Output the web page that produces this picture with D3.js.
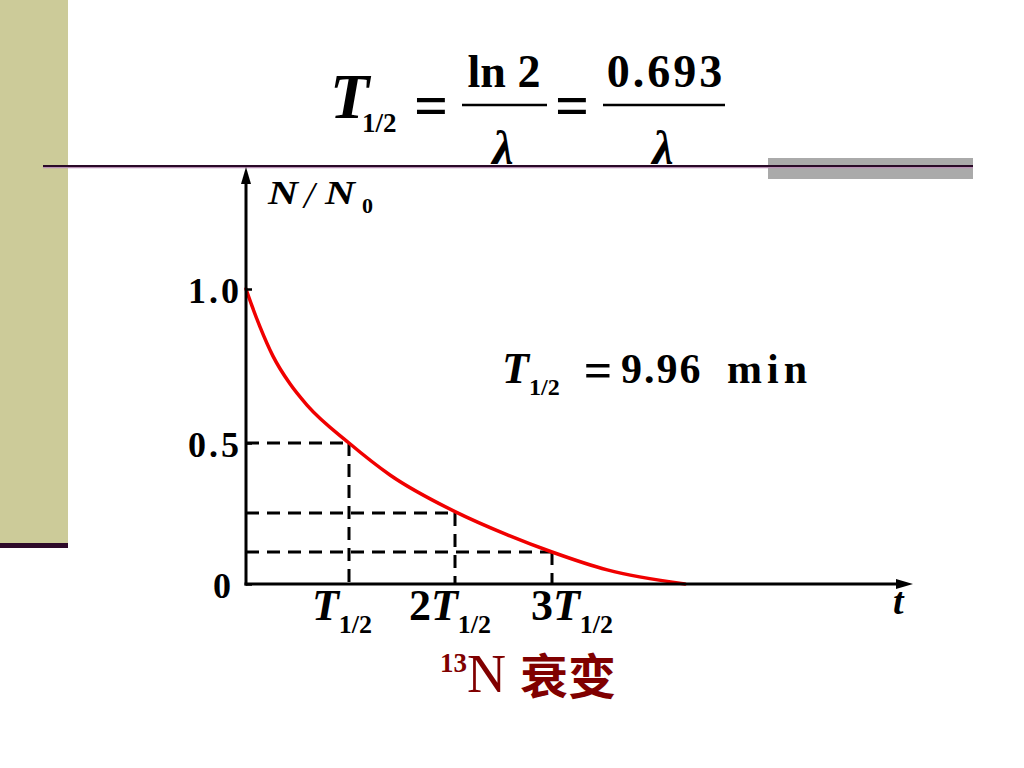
<!DOCTYPE html>
<html><head><meta charset="utf-8">
<script src="https://cdn.jsdelivr.net/npm/d3@7"></script>
<style>
body{margin:0;background:#fff;}
text{font-family:"Liberation Serif","Times New Roman",serif;}
</style>
</head><body>
<svg id="c" width="1024" height="768"></svg>
<script>
// ---- data ----
const curveT = [0, 0.058, 0.136, 0.262, 0.427, 0.592, 1.0, 1.39, 2.0, 2.54, 3.0, 3.57, 4.37];
const curveN = [1.0, 0.945, 0.877, 0.782, 0.692, 0.623, 0.5, 0.385, 0.255, 0.18, 0.125, 0.055, 0];
const halfT = [1, 2, 3];
const halfN = [0.5, 0.25, 0.125];
const yTickValues = [0, 0.5, 1.0];
const yTickLabels = ["0", "0.5", "1.0"];
const xTickPrefix = ["", "2", "3"];
const halfLifeText = "9.96";
const unitText = "min";
const titleNum = "0.693";

const svg = d3.select("#c");
const x = d3.scaleLinear().domain([0, 1, 2, 3]).range([246, 349, 455, 552]);
const y = d3.scaleLinear().domain([0, 0.125, 0.25, 0.5, 1]).range([584, 552, 513, 443, 289]);

// ---- slide decoration ----
svg.append("rect").attr("x",0).attr("y",0).attr("width",68).attr("height",545).attr("fill","#cccb99");
svg.append("rect").attr("x",0).attr("y",543).attr("width",68).attr("height",5).attr("fill","#2e0a2a");
svg.append("rect").attr("x",768).attr("y",158).attr("width",205).attr("height",21).attr("fill","#aaaaaa");
svg.append("line").attr("x1",43).attr("x2",973).attr("y1",167.5).attr("y2",167.5).attr("stroke","#b890b4").attr("stroke-width",1.5);
svg.append("line").attr("x1",43).attr("x2",973).attr("y1",166).attr("y2",166).attr("stroke","#2a0a28").attr("stroke-width",2);

// ---- text helper ----
const F = "Liberation Serif";
function txt(xp, yp, s, size, opts={}) {
  const t = svg.append("text").attr("x",xp).attr("y",yp).text(s)
    .attr("font-size",size).attr("font-weight",opts.weight||"bold")
    .attr("font-style",opts.italic?"italic":"normal")
    .attr("text-anchor",opts.anchor||"start")
    .attr("fill",opts.fill||"#000");
  if (opts.ls) t.attr("letter-spacing",opts.ls);
  if (opts.len) t.attr("textLength",opts.len).attr("lengthAdjust","spacingAndGlyphs");
  return t;
}

// ---- top formula ----
txt(330,118,"T",64,{italic:true});
txt(362,132,"1/2",27);
txt(431,125,"=",60,{anchor:"middle"});
svg.append("line").attr("x1",462).attr("x2",547).attr("y1",105).attr("y2",105).attr("stroke","#000").attr("stroke-width",2.5);
txt(504,87,"ln 2",46,{anchor:"middle"});
txt(503,164,"λ",48,{italic:true,anchor:"middle"});
txt(572,125,"=",60,{anchor:"middle"});
svg.append("line").attr("x1",603).attr("x2",725).attr("y1",105).attr("y2",105).attr("stroke","#000").attr("stroke-width",2.5);
txt(666,87,titleNum,46,{anchor:"middle",ls:3});
txt(663,164,"λ",48,{italic:true,anchor:"middle"});

// ---- dashed guide lines ----
const g = svg.append("g");
halfT.forEach((t,i)=>{
  g.append("line").attr("x1",x(0)).attr("x2",x(t)).attr("y1",y(halfN[i])).attr("y2",y(halfN[i]))
    .attr("stroke","#000").attr("stroke-width",3).attr("stroke-dasharray","13,8");
  g.append("line").attr("x1",x(t)).attr("x2",x(t)).attr("y1",y(halfN[i])).attr("y2",y(0))
    .attr("stroke","#000").attr("stroke-width",3).attr("stroke-dasharray","13,8");
});

// ---- decay curve ----
const line = d3.line().x(i=>x(curveT[i])).y(i=>y(curveN[i])).curve(d3.curveMonotoneX);
svg.append("path").attr("d", line(d3.range(curveT.length)))
  .attr("fill","none").attr("stroke","#f00000").attr("stroke-width",3.5).attr("stroke-linecap","round");

// ---- axes ----
svg.append("line").attr("x1",x(0)).attr("x2",x(0)).attr("y1",y(0)+1.5).attr("y2",180).attr("stroke","#000").attr("stroke-width",3);
svg.append("path").attr("d",`M${x(0)},167 L${x(0)-5},184 L${x(0)+5},184 Z`).attr("fill","#000");
svg.append("line").attr("x1",x(0)-1.5).attr("x2",900).attr("y1",y(0)).attr("y2",y(0)).attr("stroke","#000").attr("stroke-width",3);
svg.append("path").attr("d",`M913,${y(0)} L896,${y(0)-5} L896,${y(0)+5} Z`).attr("fill","#000");

const yAxis = d3.axisLeft(y).tickValues(yTickValues)
  .tickFormat((d,i)=>yTickLabels[i]).tickSizeInner(-6).tickSizeOuter(0).tickPadding(4);
const ya = svg.append("g").attr("transform",`translate(${x(0)},0)`).call(yAxis);
ya.select(".domain").remove();
ya.selectAll(".tick line").attr("stroke","#000").attr("stroke-width",2.5);
ya.selectAll(".tick text").attr("font-family",F).attr("font-size",36).attr("font-weight","bold")
  .attr("letter-spacing",3).attr("dy","0.38em").attr("fill","#000");
ya.selectAll(".tick text").filter(d=>d===0).attr("dx",-8);

// x tick labels
const labelDx = [-7, -5, 20];
halfT.forEach((t,i)=>{
  const tx = svg.append("text").attr("x",x(t)+labelDx[i]).attr("y",620).attr("text-anchor","middle")
    .attr("font-weight","bold").attr("font-size",44);
  if (xTickPrefix[i]) tx.append("tspan").text(xTickPrefix[i]);
  tx.append("tspan").attr("font-style","italic").text("T");
  tx.append("tspan").attr("font-size",26).attr("dy",13).text("1/2");
});

// axis titles
txt(268,204,"N",34,{italic:true,len:30});
txt(304,208,"/",38,{italic:true,weight:"normal"});
txt(325,204,"N",34,{italic:true,len:30});
txt(362,213,"0",22);
txt(893,614,"t",38,{italic:true});

// half-life annotation
txt(502,383,"T",44,{italic:true});
txt(529,395,"1/2",24);
txt(598,387,"=",50,{anchor:"middle"});
txt(621,383,halfLifeText,42,{ls:2});
txt(727,383,unitText,42,{ls:5});

// caption
svg.append("text").attr("x",440).attr("y",672).attr("fill","#800000").attr("font-size",27).attr("font-weight","bold").text("13");
svg.append("text").attr("x",467).attr("y",692).attr("fill","#800000").attr("font-size",54).text("N");
svg.append("text").attr("x",520).attr("y",694).attr("fill","#800000")
  .style("font-family","'Noto Sans CJK SC','Noto Sans CJK JP',sans-serif")
  .attr("font-weight","bold").attr("font-size",48).text("衰变");
</script>
</body></html>
